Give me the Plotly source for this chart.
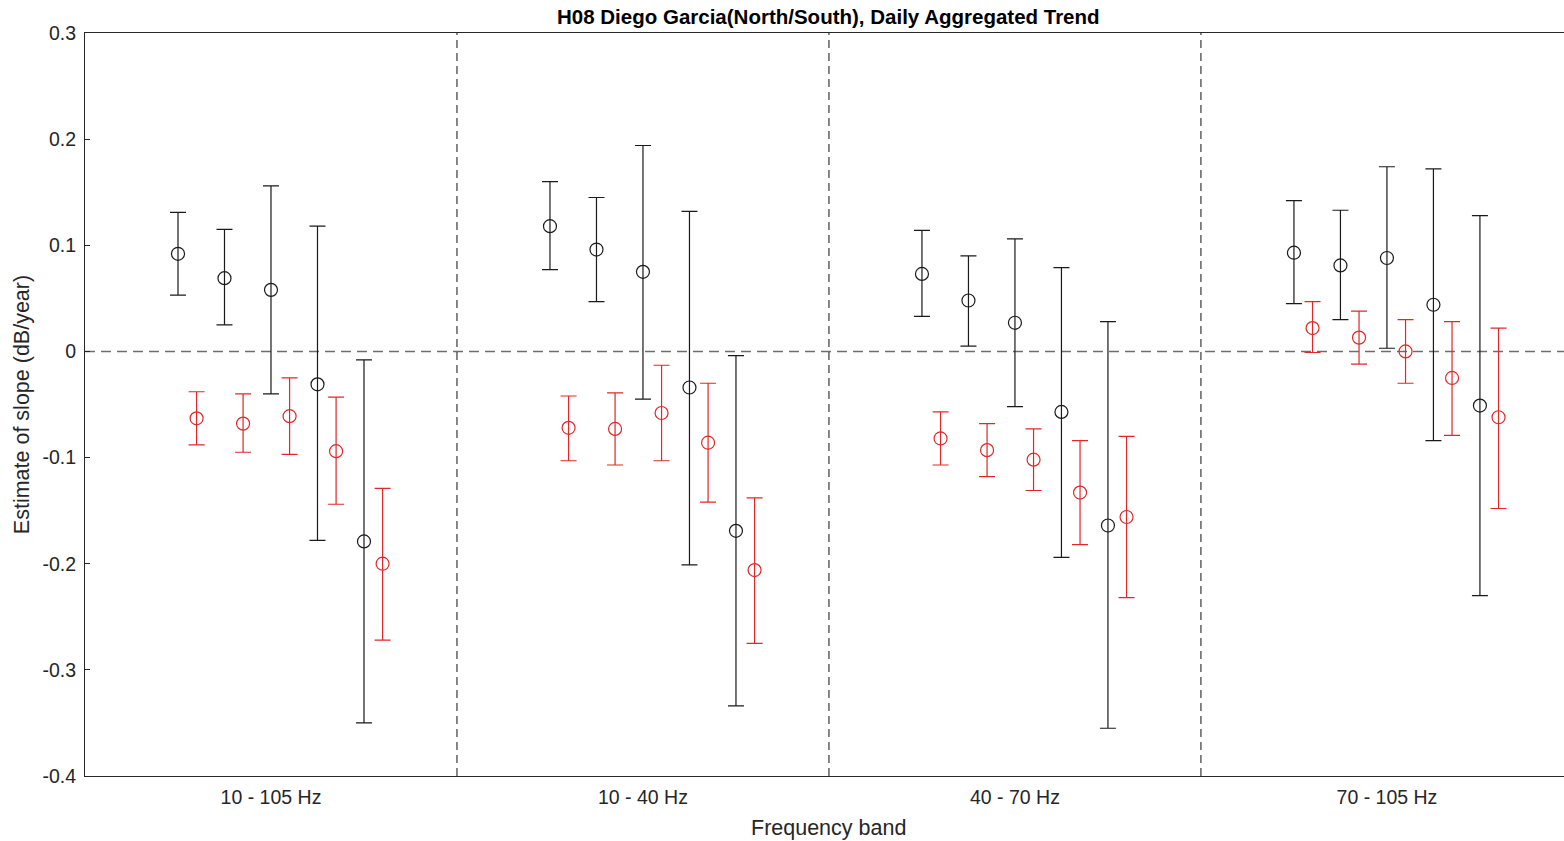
import plotly.graph_objects as go

# ---- data ----
bands = ["10 - 105 Hz", "10 - 40 Hz", "40 - 70 Hz", "70 - 105 Hz"]

# North (black) series: estimate, lower bound, upper bound per band (5 points each)
north_est = [
    [0.092, 0.069, 0.058, -0.031, -0.179],
    [0.118, 0.096, 0.075, -0.034, -0.169],
    [0.073, 0.048, 0.027, -0.057, -0.164],
    [0.093, 0.081, 0.088, 0.044, -0.051],
]
north_lo = [
    [0.053, 0.025, -0.040, -0.178, -0.350],
    [0.077, 0.047, -0.045, -0.201, -0.334],
    [0.033, 0.005, -0.052, -0.194, -0.355],
    [0.045, 0.030, 0.003, -0.084, -0.230],
]
north_hi = [
    [0.131, 0.115, 0.156, 0.118, -0.008],
    [0.160, 0.145, 0.194, 0.132, -0.004],
    [0.114, 0.090, 0.106, 0.079, 0.028],
    [0.142, 0.133, 0.174, 0.172, 0.128],
]

# South (red) series
south_est = [
    [-0.063, -0.068, -0.061, -0.094, -0.200],
    [-0.072, -0.073, -0.058, -0.086, -0.206],
    [-0.082, -0.093, -0.102, -0.133, -0.156],
    [0.022, 0.013, 0.000, -0.025, -0.062],
]
south_lo = [
    [-0.088, -0.095, -0.097, -0.144, -0.272],
    [-0.103, -0.107, -0.103, -0.142, -0.275],
    [-0.107, -0.118, -0.131, -0.182, -0.232],
    [-0.001, -0.012, -0.030, -0.079, -0.148],
]
south_hi = [
    [-0.038, -0.040, -0.025, -0.043, -0.129],
    [-0.042, -0.039, -0.013, -0.030, -0.138],
    [-0.057, -0.068, -0.073, -0.084, -0.080],
    [0.047, 0.038, 0.030, 0.028, 0.022],
]

y_ticks = [0.3, 0.2, 0.1, 0, -0.1, -0.2, -0.3, -0.4]
y_tick_text = ["0.3", "0.2", "0.1", "0", "-0.1", "-0.2", "-0.3", "-0.4"]

# ---- layout constants (positions within a band) ----
offsets = [-0.25, -0.125, 0.0, 0.125, 0.25]
south_shift = 0.05

BLACK = "#1a1a1a"
RED = "#e02828"
AXC = "#262626"
FONT = "Liberation Sans, Arial, sans-serif"

fig = go.Figure()


def add_series(est, lo, hi, shift, color):
    xs, ys, up, dn = [], [], [], []
    for b in range(len(bands)):
        for k in range(len(offsets)):
            xs.append(b + 1 + offsets[k] + shift)
            ys.append(est[b][k])
            up.append(hi[b][k] - est[b][k])
            dn.append(est[b][k] - lo[b][k])
    fig.add_trace(go.Scatter(
        x=xs, y=ys, mode="markers",
        marker=dict(symbol="circle-open", size=13, color=color, line=dict(width=1.2, color=color)),
        error_y=dict(type="data", symmetric=False, array=up, arrayminus=dn,
                     color=color, thickness=1.2, width=8),
        showlegend=False, hoverinfo="skip",
    ))


add_series(north_est, north_lo, north_hi, 0.0, BLACK)
add_series(south_est, south_lo, south_hi, south_shift, RED)

shapes = []
# zero line
shapes.append(dict(type="line", xref="paper", yref="y", x0=0, x1=1, y0=0, y1=0,
                   line=dict(color="#6e6e6e", width=1.5, dash="10px,6px"), layer="below"))
# band separators
for b in range(1, len(bands)):
    shapes.append(dict(type="line", xref="x", yref="paper", x0=b + 0.5, x1=b + 0.5, y0=0, y1=1,
                       line=dict(color="#111111", width=1, dash="8px,5px"), layer="below"))

fig.update_layout(
    width=1564, height=841,
    margin=dict(l=85, r=0, t=33, b=65),
    paper_bgcolor="white", plot_bgcolor="white",
    font=dict(family=FONT, size=19, color=AXC),
    shapes=shapes,
    annotations=[
        dict(text="<b>H08 Diego Garcia(North/South), Daily Aggregated Trend</b>",
             xref="x", yref="paper", x=2.5, y=1.0, yshift=3, xanchor="center", yanchor="bottom",
             showarrow=False, font=dict(family=FONT, size=20.5, color="#000000")),
        dict(text="Frequency band",
             xref="x", yref="paper", x=2.5, y=0.0, yshift=-52, xanchor="center", yanchor="middle",
             showarrow=False, font=dict(family=FONT, size=21.5, color=AXC)),
    ],
)

fig.update_xaxes(
    range=[0.5, 4.476], tickmode="array", tickvals=[1, 2, 3, 4], ticktext=bands,
    showgrid=False, zeroline=False, showline=True, linecolor=AXC, linewidth=1, mirror=True,
    ticks="", ticklabelstandoff=4,
    tickfont=dict(size=19.5, color=AXC),
)
fig.update_yaxes(
    range=[-0.4, 0.3], tickmode="array", tickvals=y_ticks, ticktext=y_tick_text,
    showgrid=False, zeroline=False, showline=True, linecolor=AXC, linewidth=1, mirror=False,
    ticks="inside", ticklen=5, tickcolor=AXC, ticklabelstandoff=4,
    title=dict(text="Estimate of slope (dB/year)", font=dict(size=21.5, color=AXC), standoff=6),
    tickfont=dict(size=19.5, color=AXC),
)

fig.write_html("out.html")
